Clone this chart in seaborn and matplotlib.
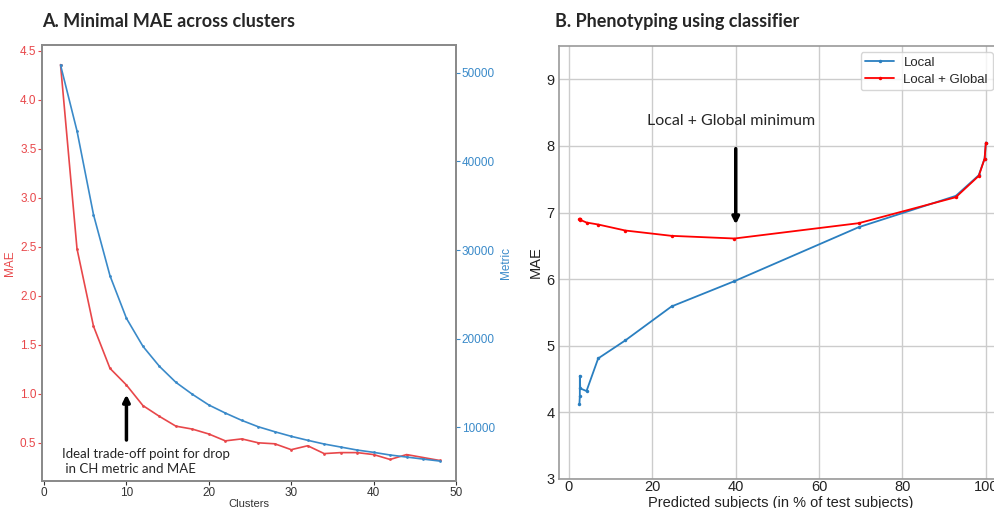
import pandas as pd
import matplotlib
matplotlib.use("Agg")
import matplotlib.pyplot as plt
import seaborn as sns

# --- Data: panel A ---
clusters = [2, 4, 6, 8, 10, 12, 14, 16, 18, 20, 22, 24,
            26, 28, 30, 32, 34, 36, 38, 40, 42, 44, 46, 48]
mae_a = [4.36, 2.48, 1.69, 1.26, 1.09, 0.88, 0.77, 0.67, 0.64, 0.59, 0.52, 0.54,
         0.50, 0.49, 0.43, 0.47, 0.39, 0.40, 0.40, 0.38, 0.33, 0.38, 0.35, 0.32]
metric_a = [50900, 43450, 34000, 27100, 22280, 19120, 16860, 15050, 13700, 12490, 11580, 10750,
            10030, 9470, 8950, 8500, 8080, 7740, 7400, 7140, 6840, 6610, 6380, 6160]

# --- Data: panel B ---
pred_pct = [2.5, 2.6, 2.6, 2.7, 4.2, 7.0, 13.5, 24.6, 39.7, 69.5, 92.8, 98.3, 99.7, 100.0]
mae_local = [4.12, 4.25, 4.55, 4.36, 4.32, 4.81, 5.08, 5.59, 5.97, 6.78, 7.25, 7.56, 7.81, 8.05]
mae_global = [6.90, 6.91, 6.90, 6.89, 6.85, 6.82, 6.73, 6.65, 6.61, 6.84, 7.23, 7.55, 7.81, 8.05]

df_a = pd.DataFrame({"clusters": clusters, "mae": mae_a, "metric": metric_a})
df_b = pd.DataFrame({"pct": pred_pct, "local": mae_local, "glob": mae_global})

RED_A = "#e8474a"
BLUE_A = "#3a8ac9"
ANNOT_FONT = ["Lato", "DejaVu Sans"]
TICK_FONT = ["Liberation Sans", "DejaVu Sans"]

sns.set_theme(style="white")
plt.rcParams["font.family"] = TICK_FONT

fig = plt.figure(figsize=(9.95, 5.08), dpi=100)

# --- A. Minimal MAE across clusters ---
ax1 = fig.add_axes([0.0422, 0.0531, 0.4161, 0.8583])
sns.lineplot(data=df_a, x="clusters", y="mae", ax=ax1, color=RED_A, marker=".",
             markersize=4, markeredgewidth=0, linewidth=1.2)
ax1.set_xlim(-0.25, 50)
ax1.set_ylim(0.11, 4.56)
ax1.set_xticks([0, 10, 20, 30, 40, 50])
ax1.set_yticks([0.5, 1.0, 1.5, 2.0, 2.5, 3.0, 3.5, 4.0, 4.5])
ax1.set_xlabel("Clusters", fontsize=8, color="#333333", labelpad=0)
ax1.set_ylabel("MAE", fontsize=8.5, color=RED_A, labelpad=3)
ax1.tick_params(axis="y", colors=RED_A, labelsize=8.5, length=3, width=0.8, pad=1, left=True)
ax1.tick_params(axis="x", colors="#333333", labelsize=8.5, length=3, width=0.8, pad=1, bottom=True)
for s in ax1.spines.values():
    s.set_color("#8a8a8a")
    s.set_linewidth(1.3)

ax2 = ax1.twinx()
sns.lineplot(data=df_a, x="clusters", y="metric", ax=ax2, color=BLUE_A, marker=".",
             markersize=4, markeredgewidth=0, linewidth=1.2)
ax2.set_ylim(3900, 53160)
ax2.set_yticks([10000, 20000, 30000, 40000, 50000])
ax2.set_ylabel("Metric", fontsize=8.5, color=BLUE_A, labelpad=4)
ax2.tick_params(axis="y", colors=BLUE_A, labelsize=8.5, length=3, width=0.8, pad=1, right=True)
ax2.grid(False)
for s in ax2.spines.values():
    s.set_color("#8a8a8a")
    s.set_linewidth(1.3)

ax1.annotate("", xy=(10, 1.02), xytext=(10, 0.5),
             arrowprops=dict(arrowstyle="-|>", color="black", lw=2.5, mutation_scale=10))
ax1.text(2.2, 0.445, "Ideal trade-off point for drop\n in CH metric and MAE",
         fontsize=9.5, family=ANNOT_FONT, va="top", ha="left", linespacing=1.25)

fig.text(0.042, 0.957, "A. Minimal MAE across clusters", fontsize=13,
         fontweight="bold", family=ANNOT_FONT, va="center", ha="left")

# --- B. Phenotyping using classifier ---
ax3 = fig.add_axes([0.5618, 0.0571, 0.4462, 0.8524])
sns.lineplot(data=df_b, x="pct", y="local", ax=ax3, color="#2a7fc0", marker=".",
             markersize=5, markeredgewidth=0, linewidth=1.3, sort=False,
             estimator=None, label="Local")
sns.lineplot(data=df_b, x="pct", y="glob", ax=ax3, color="red", marker=".",
             markersize=5, markeredgewidth=0, linewidth=1.3, sort=False,
             estimator=None, label="Local + Global")
ax3.set_xlim(-2.4, 104.1)
ax3.set_ylim(3, 9.5)
ax3.set_xticks([0, 20, 40, 60, 80, 100])
ax3.set_yticks([3, 4, 5, 6, 7, 8, 9])
ax3.grid(True, color="#cccccc", linewidth=1)
ax3.set_xlabel("Predicted subjects (in % of test subjects)", fontsize=10.5, color="#222222", labelpad=1)
ax3.set_ylabel("MAE", fontsize=10.5, color="#222222", labelpad=3)
ax3.tick_params(axis="y", labelsize=10.5, colors="#222222", length=0, pad=3)
ax3.tick_params(axis="x", labelsize=10.5, colors="#222222", length=0, pad=1)
for s in ax3.spines.values():
    s.set_color("#999999")
    s.set_linewidth(1.2)
leg = ax3.legend(loc="upper right", bbox_to_anchor=(0.9975, 0.8976),
                 bbox_transform=fig.transFigure, borderaxespad=0, fontsize=9.5,
                 frameon=True, handlelength=2.2, labelspacing=0.35,
                 borderpad=0.35, handletextpad=0.7)
leg.get_frame().set_edgecolor("#cccccc")

ax3.annotate("", xy=(40, 6.78), xytext=(40, 8.0),
             arrowprops=dict(arrowstyle="-|>", color="black", lw=2.5, mutation_scale=10))
ax3.text(38.9, 8.37, "Local + Global minimum", fontsize=11.5, family=ANNOT_FONT,
         va="center", ha="center")

fig.text(0.558, 0.957, "B. Phenotyping using classifier", fontsize=13,
         fontweight="bold", family=ANNOT_FONT, va="center", ha="left")

fig.savefig("out.png", dpi=100)
